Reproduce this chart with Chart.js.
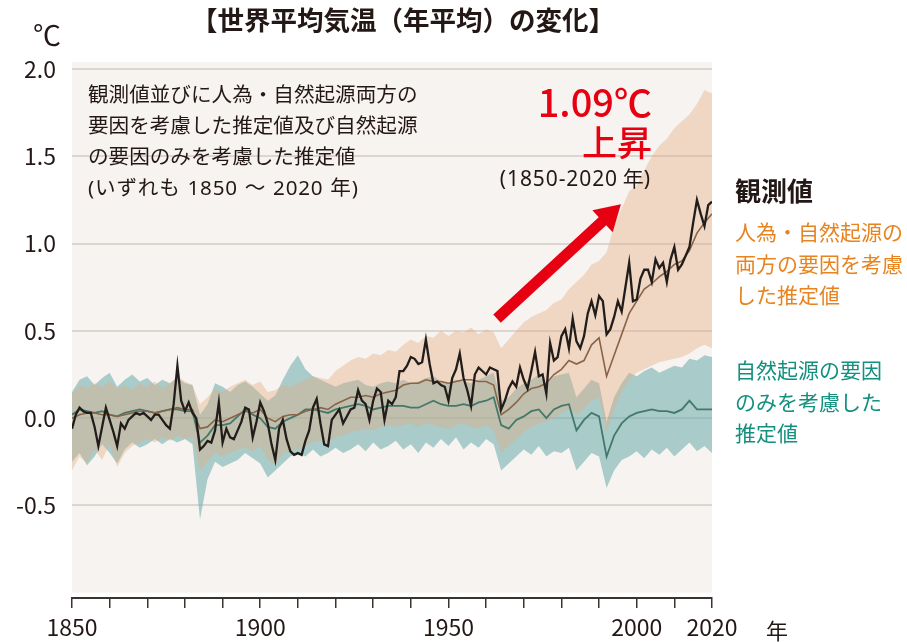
<!DOCTYPE html>
<html lang="ja">
<head>
<meta charset="utf-8">
<script src="https://cdn.jsdelivr.net/npm/chart.js@4.4.1/dist/chart.umd.min.js"></script>
<style>
  html, body { margin: 0; padding: 0; background: #ffffff; }
  #wrap { position: relative; width: 907px; height: 642px; overflow: hidden;
          font-family: "Noto Sans CJK JP", "Noto Sans", sans-serif; color: #231815; }
  canvas { position: absolute; left: 0; top: 0; }
  .t { position: absolute; white-space: nowrap; line-height: 1; }
  .lat { font-family: "Noto Sans", "Noto Sans CJK JP", sans-serif; }
</style>
</head>
<body>
<div id="wrap">
  <canvas id="c" width="907" height="642"></canvas>
  <div class="t" id="title" style="left:191px; top:6px; font-size:26.5px; font-weight:700;">【世界平均気温（年平均）の変化】</div>
  <div class="t" style="left:33px; top:20px; font-size:28px;">℃</div>
  <div class="t" style="left:88px; top:78px; font-size:20.6px; line-height:31px;">観測値並びに人為・自然起源両方の<br>要因を考慮した推定値及び自然起源<br>の要因のみを考慮した推定値<br><span style="letter-spacing:0.8px; word-spacing:1.5px;"><span class="lat">(</span>いずれも <span class="lat">1850</span> ～ <span class="lat">2020</span> 年<span class="lat">)</span></span></div>
  <div class="t" style="right:255px; top:82px; font-size:38px; color:#e60012; font-weight:500; text-align:right;">1.09℃</div>
  <div class="t" style="right:255px; top:123px; font-size:35px; color:#e60012; font-weight:500; text-align:right;">上昇</div>
  <div class="t" style="right:257px; top:167px; font-size:21px;"><span class="lat" style="letter-spacing:0.9px;">(1850-2020</span> 年<span class="lat">)</span></div>
  <div class="t" style="left:735px; top:177px; font-size:26px; font-weight:700;">観測値</div>
  <div class="t" style="left:735px; top:216px; font-size:21px; line-height:31.5px; color:#e8841f;">人為・自然起源の<br>両方の要因を考慮<br>した推定値</div>
  <div class="t" style="left:735px; top:354px; font-size:21px; line-height:31.5px; color:#14907f;">自然起源の要因<br>のみを考慮した<br>推定値</div>
  <div class="t" style="left:766px; top:618px; font-size:22px;">年</div>
</div>
<script>
// ---------------- DATA ----------------
const obsStartYear = 1850;
// Observed annual global mean temperature anomaly (°C), 1850-2020
const observed = [
 -0.06, 0.02, 0.06, 0.04, 0.03, 0.03,-0.05,-0.16,-0.05, 0.06,
 -0.01,-0.08,-0.16,-0.03,-0.06,-0.01, 0.01, 0.03, 0.02, 0.03,
  0.01,-0.01, 0.02, 0.02,-0.01,-0.04,-0.06, 0.08, 0.30, 0.10,
  0.04, 0.09, 0.03, 0.00,-0.18,-0.16,-0.13,-0.14,-0.07, 0.09,
 -0.14,-0.06,-0.11,-0.12,-0.07,-0.02, 0.06, 0.05,-0.11,-0.02,
  0.09, 0.04,-0.03,-0.15,-0.24,-0.06,-0.01,-0.12,-0.19,-0.21,
 -0.20,-0.21,-0.13,-0.07, 0.06, 0.11,-0.03,-0.15,-0.16,-0.01,
  0.02, 0.05,-0.03, 0.01, 0.05, 0.06, 0.16, 0.10, 0.08,-0.01,
  0.10, 0.17, 0.15,-0.01, 0.10, 0.08, 0.12, 0.27, 0.27, 0.30,
  0.35, 0.34, 0.31, 0.32, 0.45, 0.31, 0.20, 0.21, 0.19, 0.18,
  0.10, 0.23, 0.28, 0.37, 0.23, 0.16, 0.07, 0.25, 0.29, 0.27,
  0.25, 0.29, 0.28, 0.27, 0.05, 0.10, 0.17, 0.21, 0.18, 0.29,
  0.22, 0.17, 0.27, 0.38, 0.24, 0.25, 0.14, 0.43, 0.33, 0.35,
  0.47, 0.51, 0.40, 0.57, 0.44, 0.40, 0.47, 0.60, 0.67, 0.59,
  0.70, 0.67, 0.48, 0.51, 0.58, 0.67, 0.61, 0.75, 0.89, 0.67,
  0.68, 0.80, 0.85, 0.85, 0.78, 0.91, 0.86, 0.89, 0.78, 0.91,
  0.98, 0.85, 0.88, 0.93, 0.98, 1.12, 1.25, 1.17, 1.10, 1.22,
  1.24
];

// Simulated series, every 2 years 1850..2020
const simStartYear = 1850;
const simStepYears = 2;
// Human + natural (median)
const simBoth = [
  0.00, 0.02, 0.03, 0.03, 0.02, 0.02, 0.01, 0.02, 0.03, 0.04,
  0.04, 0.03, 0.04, 0.05, 0.06, 0.05, 0.05,-0.06,-0.05,-0.01,
 -0.02, 0.00, 0.02, 0.04, 0.03, 0.05, 0.00,-0.02, 0.01, 0.02,
  0.02, 0.04, 0.05, 0.06, 0.05, 0.08, 0.10, 0.12, 0.12, 0.13,
  0.12, 0.14, 0.15, 0.16, 0.19, 0.20, 0.20, 0.22, 0.21, 0.21,
  0.20, 0.21, 0.22, 0.22, 0.21, 0.21, 0.19, 0.02, 0.05, 0.09,
  0.14, 0.17, 0.18, 0.20, 0.25, 0.28, 0.33, 0.31, 0.33, 0.42,
  0.46, 0.24, 0.36, 0.48, 0.60, 0.67, 0.74, 0.77, 0.81, 0.84,
  0.88, 0.90, 0.96, 1.06, 1.12, 1.17
];
const simBothUpper = [
  0.14, 0.19, 0.17, 0.20, 0.18, 0.21, 0.17, 0.19, 0.16, 0.20,
  0.18, 0.21, 0.17, 0.20, 0.24, 0.21, 0.19, 0.08, 0.12, 0.17,
  0.15, 0.18, 0.20, 0.22, 0.19, 0.21, 0.15, 0.16, 0.19, 0.18,
  0.20, 0.22, 0.24, 0.23, 0.22, 0.27, 0.30, 0.33, 0.35, 0.34,
  0.37, 0.36, 0.39, 0.38, 0.42, 0.45, 0.43, 0.47, 0.46, 0.50,
  0.47, 0.50, 0.49, 0.52, 0.48, 0.51, 0.49, 0.40, 0.45, 0.50,
  0.55, 0.58, 0.60, 0.62, 0.66, 0.68, 0.74, 0.78, 0.82, 0.88,
  0.90, 0.95, 1.10, 1.20, 1.30, 1.33, 1.42, 1.50, 1.56, 1.60,
  1.66, 1.70, 1.74, 1.80, 1.88, 1.86
];
const simBothLower = [
 -0.30,-0.22,-0.26,-0.18,-0.24,-0.15,-0.28,-0.20,-0.16,-0.14,
 -0.12,-0.14,-0.11,-0.13,-0.10,-0.12,-0.11,-0.30,-0.25,-0.20,
 -0.22,-0.20,-0.18,-0.17,-0.19,-0.16,-0.24,-0.27,-0.20,-0.19,
 -0.18,-0.16,-0.14,-0.13,-0.14,-0.11,-0.10,-0.08,-0.07,-0.06,
 -0.07,-0.05,-0.04,-0.05,-0.04,-0.03,-0.05,-0.03,-0.04,-0.05,
 -0.06,-0.04,-0.03,-0.05,-0.06,-0.04,-0.07,-0.20,-0.16,-0.12,
 -0.08,-0.05,-0.03,-0.02, 0.00, 0.03, 0.05, 0.02, 0.05, 0.10,
  0.12,-0.08, 0.05, 0.15, 0.22, 0.26, 0.28, 0.30, 0.32, 0.33,
  0.34, 0.35, 0.37, 0.40, 0.42, 0.40
];
// Natural only (median)
const simNatural = [
  0.02, 0.05, 0.04, 0.03, 0.04, 0.02, 0.01, 0.03, 0.04, 0.05,
  0.04, 0.03, 0.04, 0.05, 0.05, 0.04, 0.04,-0.14,-0.10,-0.04,
 -0.04,-0.03, 0.01, 0.05, 0.02, 0.00,-0.05,-0.06,-0.02, 0.00,
  0.02, 0.05, 0.05, 0.04, 0.03, 0.05, 0.06, 0.07, 0.08, 0.07,
  0.05, 0.06, 0.07, 0.07, 0.07, 0.06, 0.06, 0.08, 0.10, 0.08,
  0.07, 0.07, 0.08, 0.07, 0.09, 0.10, 0.12,-0.04,-0.06,-0.01,
  0.01, 0.04, 0.05, 0.00, 0.05, 0.07, 0.08,-0.07,-0.01, 0.03,
  0.01,-0.22,-0.10,-0.03, 0.01, 0.03, 0.04, 0.05, 0.04, 0.04,
  0.03, 0.05, 0.10, 0.05, 0.05, 0.05
];
const simNaturalUpper = [
  0.15, 0.22, 0.24, 0.19, 0.23, 0.26, 0.18, 0.22, 0.25, 0.21,
  0.23, 0.19, 0.22, 0.20, 0.23, 0.20, 0.19, 0.02, 0.08, 0.20,
  0.18, 0.15, 0.19, 0.21, 0.18, 0.14, 0.10, 0.13, 0.22, 0.30,
  0.36, 0.28, 0.24, 0.22, 0.20, 0.18, 0.20, 0.21, 0.22, 0.19,
  0.18, 0.20, 0.21, 0.20, 0.22, 0.20, 0.21, 0.23, 0.24, 0.21,
  0.20, 0.22, 0.21, 0.20, 0.22, 0.24, 0.26, 0.10, 0.12, 0.17,
  0.20, 0.22, 0.25, 0.19, 0.24, 0.25, 0.26, 0.12, 0.17, 0.22,
  0.20,-0.02, 0.12, 0.20, 0.26, 0.24, 0.27, 0.29, 0.26, 0.28,
  0.30, 0.29, 0.34, 0.33, 0.36, 0.35
];
const simNaturalLower = [
 -0.25,-0.20,-0.27,-0.22,-0.15,-0.20,-0.26,-0.18,-0.14,-0.17,
 -0.15,-0.12,-0.15,-0.12,-0.14,-0.12,-0.15,-0.58,-0.35,-0.25,
 -0.28,-0.26,-0.24,-0.20,-0.23,-0.26,-0.34,-0.30,-0.26,-0.22,
 -0.20,-0.22,-0.18,-0.22,-0.20,-0.17,-0.20,-0.18,-0.15,-0.19,
 -0.14,-0.18,-0.16,-0.13,-0.18,-0.15,-0.20,-0.14,-0.17,-0.12,
 -0.16,-0.11,-0.18,-0.14,-0.17,-0.12,-0.15,-0.30,-0.26,-0.22,
 -0.18,-0.21,-0.16,-0.22,-0.19,-0.20,-0.17,-0.30,-0.25,-0.20,
 -0.22,-0.40,-0.30,-0.24,-0.22,-0.19,-0.23,-0.18,-0.21,-0.17,
 -0.22,-0.18,-0.14,-0.19,-0.16,-0.20
];

// Tick labels
const xTickYears = [1850,1860,1870,1880,1890,1900,1910,1920,1930,1940,1950,1960,1970,1980,1990,2000,2010,2020];
const xLabelYears = [1850,1900,1950,2000,2020];
const yTickValues = [-0.5, 0.0, 0.5, 1.0, 1.5, 2.0];

// ---------------- BUILD ----------------
const obsPoints = observed.map((v, i) => ({ x: obsStartYear + i, y: v }));
const toSim = arr => arr.map((v, i) => ({ x: simStartYear + i * simStepYears, y: v }));

const panelPlugin = {
  id: 'panel',
  beforeDraw(chart, args, opts) {
    const { ctx, chartArea, scales } = chart;
    const yb = scales.y.getPixelForValue(opts.bottomValue);
    ctx.save();
    ctx.fillStyle = opts.color;
    ctx.fillRect(chartArea.left, chartArea.top, chartArea.right - chartArea.left, yb - chartArea.top);
    ctx.restore();
  }
};

const arrowPlugin = {
  id: 'arrow',
  afterDatasetsDraw(chart, args, o) {
    const { ctx, scales } = chart;
    const x1 = scales.x.getPixelForValue(o.from[0]), y1 = scales.y.getPixelForValue(o.from[1]);
    const x2 = scales.x.getPixelForValue(o.to[0]), y2 = scales.y.getPixelForValue(o.to[1]);
    const ang = Math.atan2(y2 - y1, x2 - x1);
    const bx = x2 - Math.cos(ang) * o.headLen, by = y2 - Math.sin(ang) * o.headLen;
    ctx.save();
    ctx.strokeStyle = o.color; ctx.fillStyle = o.color;
    ctx.lineWidth = o.width; ctx.lineCap = 'butt';
    ctx.beginPath(); ctx.moveTo(x1, y1); ctx.lineTo(bx + Math.cos(ang), by + Math.sin(ang)); ctx.stroke();
    const px = -Math.sin(ang), py = Math.cos(ang);
    ctx.beginPath();
    ctx.moveTo(x2, y2);
    ctx.lineTo(bx + px * o.headHalf, by + py * o.headHalf);
    ctx.lineTo(bx - px * o.headHalf, by - py * o.headHalf);
    ctx.closePath(); ctx.fill();
    ctx.restore();
  }
};

const tickFont = { family: '"Noto Sans CJK JP", "Noto Sans", sans-serif', size: 23 };

new Chart(document.getElementById('c'), {
  type: 'line',
  data: {
    datasets: [
      { label: '観測値', data: obsPoints, borderColor: '#221d1a', borderWidth: 2.3, pointRadius: 0, fill: false, tension: 0 },
      { label: '人為・自然起源', data: toSim(simBoth), borderColor: '#8a6448', borderWidth: 1.6, pointRadius: 0, fill: false },
      { label: '自然起源のみ', data: toSim(simNatural), borderColor: '#44786a', borderWidth: 1.8, pointRadius: 0, fill: false },
      { label: 'both upper', data: toSim(simBothUpper), borderWidth: 0, borderColor: 'rgba(0,0,0,0)', pointRadius: 0,
        fill: '+1', backgroundColor: 'rgba(228,172,130,0.40)' },
      { label: 'both lower', data: toSim(simBothLower), borderWidth: 0, borderColor: 'rgba(0,0,0,0)', pointRadius: 0, fill: false },
      { label: 'nat upper', data: toSim(simNaturalUpper), borderWidth: 0, borderColor: 'rgba(0,0,0,0)', pointRadius: 0,
        fill: '+1', backgroundColor: 'rgba(100,170,168,0.53)' },
      { label: 'nat lower', data: toSim(simNaturalLower), borderWidth: 0, borderColor: 'rgba(0,0,0,0)', pointRadius: 0, fill: false }
    ]
  },
  options: {
    responsive: false,
    animation: false,
    events: [],
    layout: { padding: { left: 0, top: 62, right: 195, bottom: 0 } },
    plugins: {
      legend: { display: false },
      tooltip: { enabled: false },
      panel: { color: '#f7f3f0', bottomValue: -1.0 },
      arrow: { from: [1962.9, 0.57], to: [1995.8, 1.225], color: '#e60012', width: 11, headLen: 25, headHalf: 15 }
    },
    scales: {
      x: {
        type: 'linear', min: 1850, max: 2020,
        afterBuildTicks: s => { s.ticks = xTickYears.map(v => ({ value: v })); },
        afterFit: s => { s.height = 44; },
        ticks: {
          autoSkip: false, maxRotation: 0, padding: 5, color: '#231815', font: tickFont,
          callback: v => xLabelYears.includes(v) ? String(v) : ''
        },
        grid: { drawOnChartArea: false, drawTicks: true, tickLength: 10, color: '#3a3330', lineWidth: 1.5 },
        border: { display: true, color: '#3a3330', width: 2 }
      },
      y: {
        type: 'linear', min: -1.03, max: 2.04,
        afterBuildTicks: s => { s.ticks = yTickValues.map(v => ({ value: v })); },
        afterFit: s => { s.width = 72; },
        ticks: { padding: 16, color: '#231815', font: tickFont, callback: v => Number(v).toFixed(1) },
        grid: { drawTicks: false, color: '#dcd6d1', lineWidth: 2 },
        border: { display: false }
      }
    }
  },
  plugins: [panelPlugin, arrowPlugin]
});
</script>
</body>
</html>
